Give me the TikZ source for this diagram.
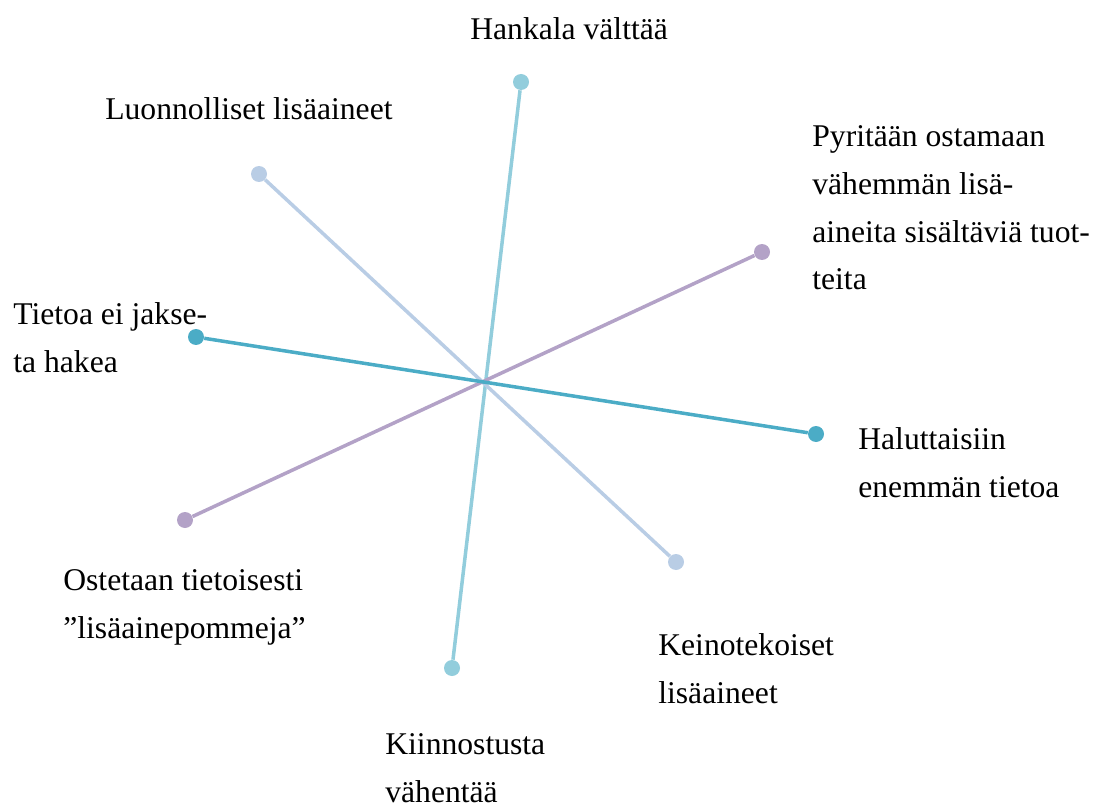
\documentclass[tikz,border=0pt]{standalone}
\usepackage{fontspec}
\setmainfont{Liberation Serif}
\definecolor{accent1}{RGB}{146,205,220}
\definecolor{accent2}{RGB}{185,205,229}
\definecolor{accent3}{RGB}{179,162,199}
\definecolor{accent4}{RGB}{75,172,198}
\usetikzlibrary{positioning}

\begin{document}
\begin{tikzpicture}[x=0.02cm,y=-0.02cm,
    dot/.style={circle,fill=#1,inner sep=0pt,minimum size=0.32cm},
    spoke/.style={draw=#1,line width=2pt},
    lbl/.style={anchor=base west,align=left,inner sep=0pt,
        font=\fontsize{18}{27.3}\selectfont}]
    \useasboundingbox (0,0) rectangle (1094,807);

    % end points
    \node[dot=accent1] (cT) at (521,82) {};
    \node[dot=accent1] (cB) at (452,668) {};
    \node[dot=accent2] (gT) at (259,174) {};
    \node[dot=accent2] (gB) at (676,562) {};
    \node[dot=accent3] (pT) at (762,252) {};
    \node[dot=accent3] (pB) at (185,520) {};
    \node[dot=accent4] (tL) at (196,337) {};
    \node[dot=accent4] (tR) at (816,434) {};

    \draw[spoke=accent1] (cT) -- (cB);
    \draw[spoke=accent2] (gT) -- (gB);
    \draw[spoke=accent3] (pT) -- (pB);
    \draw[spoke=accent4] (tL) -- (tR);

    % labels (base = last line)
    \node[lbl] (hankala) at (470,40) {Hankala välttää};
    \node[lbl] (luonn) at (105,120) {Luonnolliset lisäaineet};
    \node[lbl] (pyr) at (812,290) {Pyritään ostamaan\\vähemmän lisä-\\aineita sisältäviä tuot-\\teita};
    \node[lbl] (tietoa) at (13,372) {Tietoa ei jakse-\\ta hakea};
    \node[lbl] (halut) at (858,497) {Haluttaisiin\\enemmän tietoa};
    \node[lbl] (ostet) at (63,638) {Ostetaan tietoisesti\\”lisäainepommeja”};
    \node[lbl] (keino) at (658,703) {Keinotekoiset\\lisäaineet};
    \node[lbl] (kiinn) at (385,802) {Kiinnostusta\\vähentää};
\end{tikzpicture}
\end{document}
